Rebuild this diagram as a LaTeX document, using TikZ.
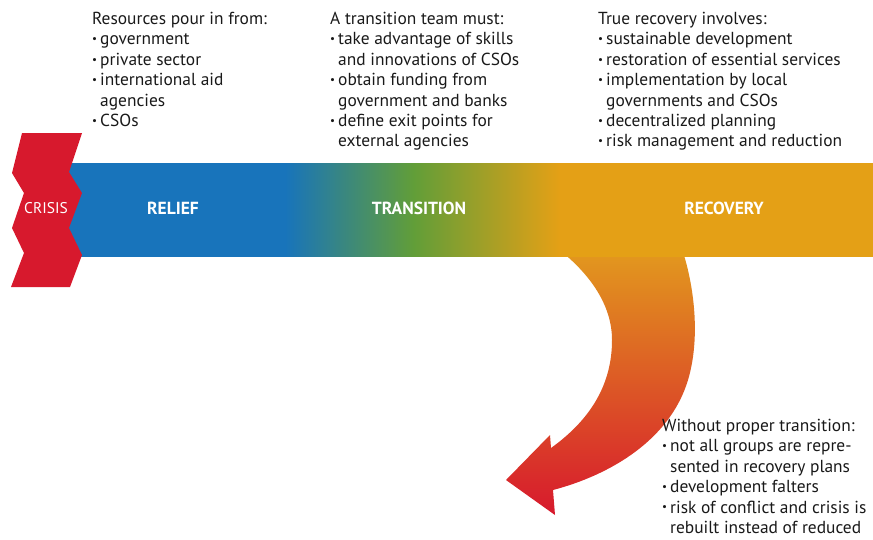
\documentclass[tikz,border=0pt]{standalone}
\usepackage{fontspec}
\setmainfont{PT Sans}
\usepackage{tikz}
\definecolor{reliefblue}{RGB}{24,116,187}
\definecolor{transgreen}{RGB}{98,158,56}
\definecolor{recorange}{RGB}{228,160,22}
\definecolor{crisisred}{RGB}{215,25,45}
\definecolor{arrowtop}{RGB}{226,152,30}
\definecolor{arrowmid}{RGB}{221,108,40}
\pgfdeclarehorizontalshading{bandshade}{100bp}{color(0bp)=(reliefblue); color(38.5bp)=(reliefblue); color(46.5bp)=(transgreen); color(55.5bp)=(recorange); color(100bp)=(recorange)}
\newcommand{\bul}{\makebox[8pt][l]{\raisebox{0.25ex}{\fontsize{11}{11}\selectfont\textbullet}}}
\newcommand{\ind}{\hspace*{8pt}}
\tikzset{
  notes/.style={anchor=north west, inner sep=0pt, align=left, font=\fontsize{17.4}{20.4}\selectfont, text=black!90},
  stage/.style={text=white, font=\fontsize{17.5}{20}\selectfont\bfseries}
}

\begin{document}
\begin{tikzpicture}[x=1pt,y=-1pt]
\useasboundingbox (0,0) rectangle (873,539);

% Falling-back arrow
\shade[top color=arrowtop, middle color=arrowmid, bottom color=crisisred]
  (562,252) -- (683,252) .. controls (695,290) and (700,340) .. (688,380)
  .. controls (670,440) and (610,475) .. (553,490)
  -- (555,515) -- (506,480) -- (550,435) -- (551,448)
  .. controls (590,420) and (612,385) .. (612,340)
  .. controls (612,305) and (590,275) .. (562,252) -- cycle;

% Band
\fill[shading=bandshade] (68,163) rectangle (873,256);

% Crisis
\fill[crisisred] (22,133) -- (82,133) -- (69,172) -- (82,193) -- (69,228) -- (82,255)
  -- (70,287) -- (11,287) -- (24,253) -- (12,228) -- (24,193) -- (12,173) -- cycle;

% Stage labels
\node[text=white, font=\fontsize{15.5}{18}\selectfont] (crisis) at (46,208) {CRISIS};
\node[stage] (relief) at (173,208) {RELIEF};
\node[stage] (transition) at (419,208) {TRANSITION};
\node[stage] (recovery) at (724,208) {RECOVERY};

% Notes
\node[notes] (resources) at (92,12) {Resources pour in from:\\
  \bul government\\
  \bul private sector\\
  \bul international aid\\
  \ind agencies\\
  \bul CSOs};
\node[notes] (team) at (330,12) {A transition team must:\\
  \bul take advantage of skills\\
  \ind and innovations of CSOs\\
  \bul obtain funding from\\
  \ind government and banks\\
  \bul define exit points for\\
  \ind external agencies};
\node[notes] (true) at (598,12) {True recovery involves:\\
  \bul sustainable development\\
  \bul restoration of essential services\\
  \bul implementation by local\\
  \ind governments and CSOs\\
  \bul decentralized planning\\
  \bul risk management and reduction};
\node[notes] (without) at (662,419) {Without proper transition:\\
  \bul not all groups are repre-\\
  \ind sented in recovery plans\\
  \bul development falters\\
  \bul risk of conflict and crisis is\\
  \ind rebuilt instead of reduced};
\end{tikzpicture}
\end{document}
